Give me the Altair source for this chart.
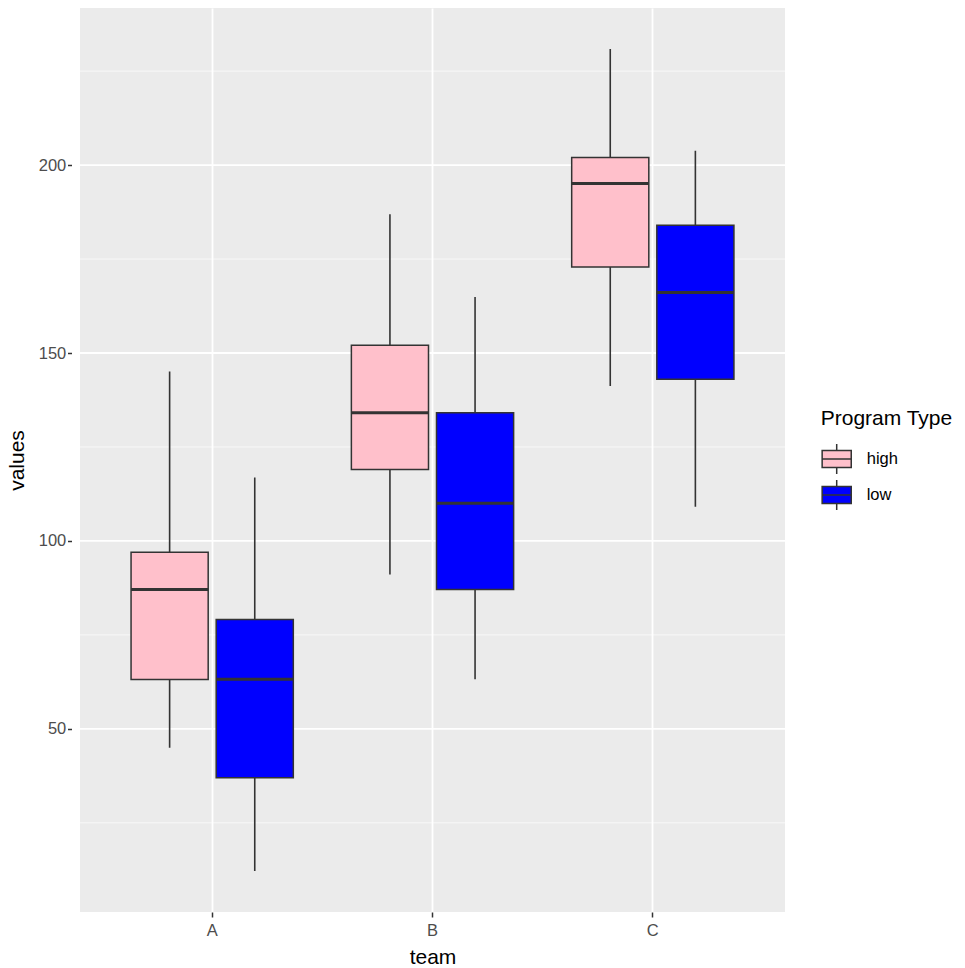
import altair as alt
import pandas as pd

# ---- data (box-plot summary statistics) ----
teams = ["A", "A", "B", "B", "C", "C"]
program_types = ["high", "low", "high", "low", "high", "low"]
whisker_low = [45.0, 12.2, 91.1, 63.2, 141.2, 109.1]
q1 = [63.1, 37.0, 119.0, 87.1, 172.9, 143.0]
median = [87.1, 63.2, 134.1, 110.0, 195.1, 166.1]
q3 = [97.0, 79.1, 152.1, 134.1, 202.0, 184.0]
whisker_high = [145.1, 116.9, 186.9, 164.9, 230.9, 203.8]

major_breaks = [50, 100, 150, 200]
minor_breaks = [25, 75, 125, 175, 225]
team_levels = ["A", "B", "C"]
type_levels = ["high", "low"]
type_colors = ["#FFC0CB", "#0000FF"]

df = pd.DataFrame({
    "team": teams,
    "type": program_types,
    "lo": whisker_low,
    "q1": q1,
    "med": median,
    "q3": q3,
    "hi": whisker_high,
})
major_df = pd.DataFrame({"v": major_breaks})
minor_df = pd.DataFrame({"v": minor_breaks})

FONT = "Liberation Sans"
DARK = "#333333"
YDOM = [1.27, 241.8]

x_enc = alt.X(
    "team:N",
    scale=alt.Scale(domain=team_levels, paddingInner=0, paddingOuter=0.1),
    axis=alt.Axis(
        title="team", grid=True, gridColor="white", gridWidth=1.8,
        domain=False, tickSize=5, tickColor=DARK, tickWidth=1.5,
        labelPadding=5, labelFontSize=16.5, labelColor="#4D4D4D", labelFont=FONT,
        titleFont=FONT, titleFontSize=21, titleFontWeight="normal", titleColor="black",
        titleBaseline="alphabetic", titleY=51, labelAngle=0,
    ),
)
xoff_enc = alt.XOffset(
    "type:N",
    scale=alt.Scale(domain=type_levels, paddingInner=0.094, paddingOuter=0.341),
)
y_axis = alt.Axis(
    title="values", values=major_breaks, grid=False, domain=False,
    offset=8.5, tickSize=4, tickColor=DARK, tickWidth=1.5, labelPadding=1.7,
    labelFontSize=16.5, labelColor="#4D4D4D", labelFont=FONT,
    titleFont=FONT, titleFontSize=21, titleFontWeight="normal", titleColor="black",
    titleBaseline="alphabetic", titleX=-48.5,
)
y_scale = alt.Scale(domain=YDOM, nice=False, zero=False)

minor_grid = alt.Chart(minor_df).mark_rule(color="white", strokeWidth=0.9, opacity=0.75).encode(
    y=alt.Y("v:Q", scale=y_scale, axis=y_axis)
)
major_grid = alt.Chart(major_df).mark_rule(color="white", strokeWidth=1.8).encode(
    y=alt.Y("v:Q", scale=y_scale, axis=y_axis)
)

base = alt.Chart(df)

whiskers = base.mark_rule(color=DARK, strokeWidth=1.6).encode(
    x=x_enc, xOffset=xoff_enc,
    y=alt.Y("lo:Q", scale=y_scale, axis=y_axis),
    y2="hi:Q",
)

box_symbol = "M-0.97,-0.57H0.97V0.57H-0.97Z M-0.97,0H0.97 M0,-0.57V-1 M0,0.57V1"

boxes = base.mark_bar(stroke=DARK, strokeWidth=1.5).encode(
    x=x_enc, xOffset=xoff_enc,
    y=alt.Y("q1:Q", scale=y_scale, axis=y_axis),
    y2="q3:Q",
    fill=alt.Fill(
        "type:N",
        scale=alt.Scale(domain=type_levels, range=type_colors),
        legend=alt.Legend(
            title="Program Type", orient="none", legendX=740.7, legendY=400,
            symbolType=box_symbol, symbolSize=900, symbolStrokeColor=DARK,
            symbolStrokeWidth=1.5, symbolOpacity=1,
            labelFont=FONT, labelFontSize=16.5, labelColor="black", labelOffset=14,
            titleFont=FONT, titleFontSize=21, titleFontWeight="normal", titleColor="black",
            titlePadding=14, rowPadding=0, padding=0,
        ),
    ),
)

medians = base.mark_bar(stroke=DARK, strokeWidth=3, fill=DARK).encode(
    x=x_enc, xOffset=xoff_enc,
    y=alt.Y("med:Q", scale=y_scale, axis=y_axis),
    y2="med:Q",
)

chart = alt.layer(minor_grid, major_grid, whiskers, boxes, medians).properties(
    width=705, height=904,
    autosize=alt.AutoSizeParams(type="none"),
    padding={"left": 80, "top": 8, "right": 180, "bottom": 56},
).configure(
    background="white",
    view=alt.ViewConfig(fill="#EBEBEB", stroke=None),
)

chart.save("out.html", embed_options={"renderer": "svg", "actions": False})
